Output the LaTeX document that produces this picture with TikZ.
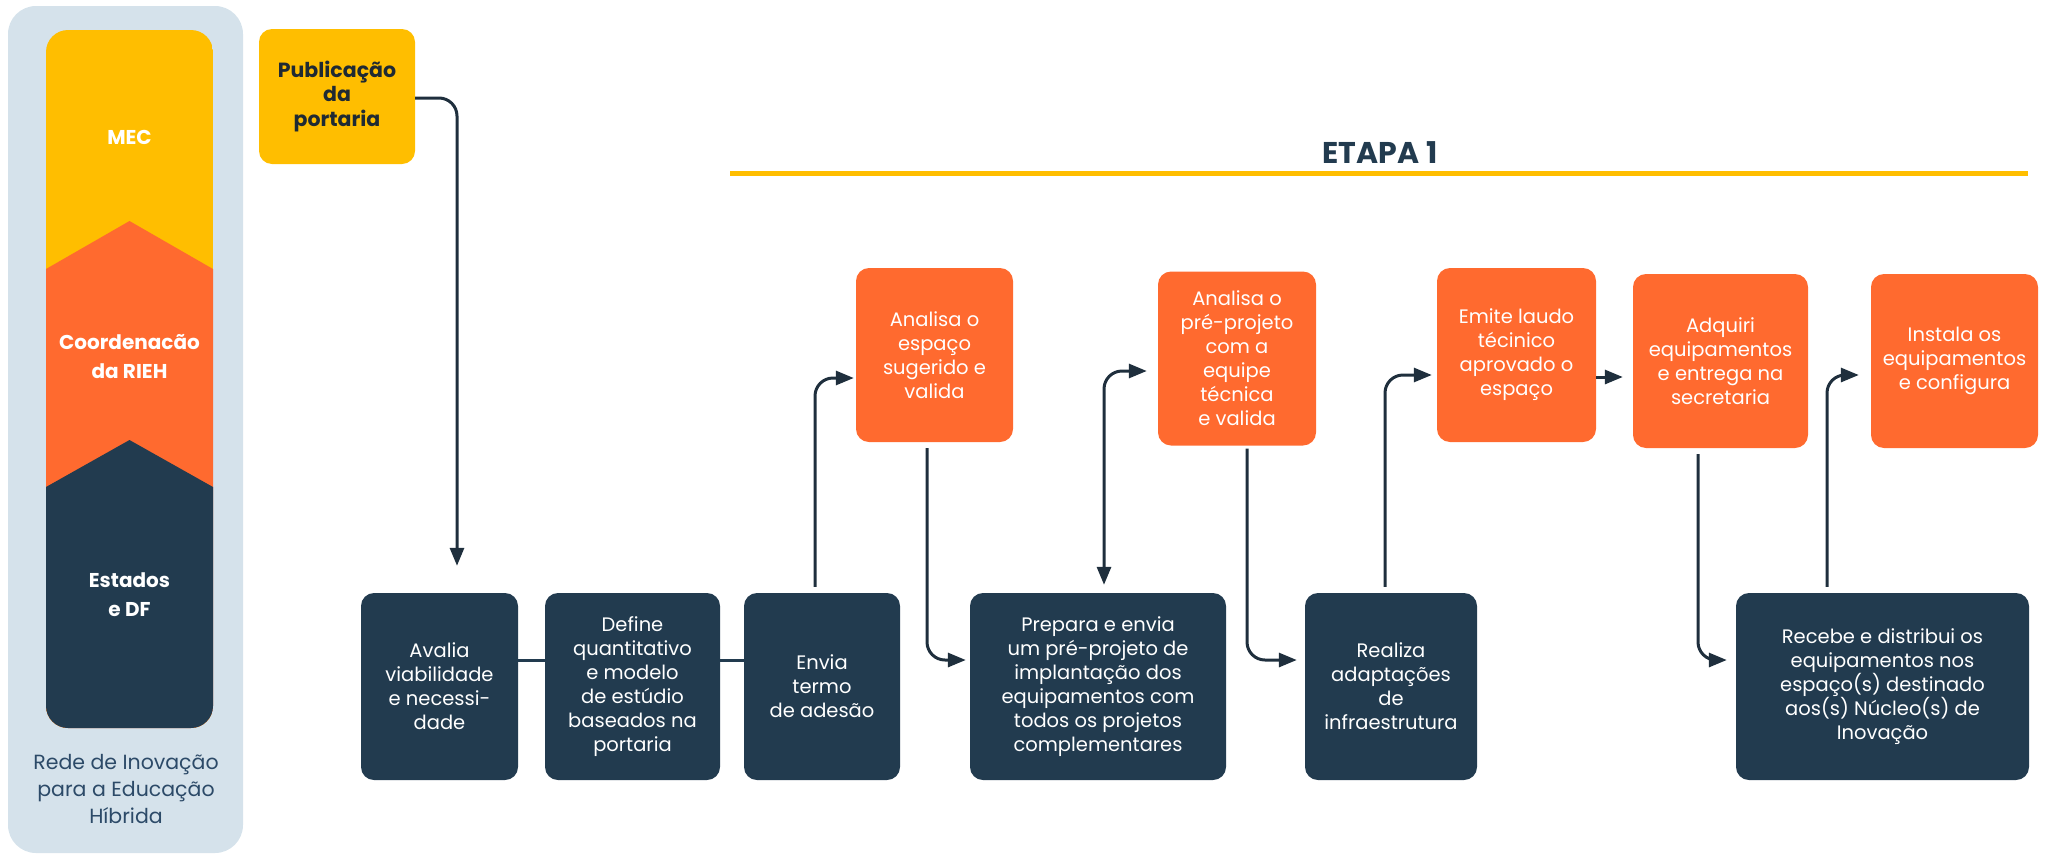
\documentclass[tikz,border=0pt]{standalone}
\usepackage{fontspec}
\setmainfont{Poppins}
\usepackage{tikz}
\usetikzlibrary{arrows.meta}

\definecolor{rieyellow}{HTML}{FFBE00}
\definecolor{rieorange}{HTML}{FF6A2F}
\definecolor{rienavy}{HTML}{223B4F}
\definecolor{riepanel}{HTML}{D5E2EB}
\definecolor{riecaption}{HTML}{2C4A68}
\definecolor{rieink}{HTML}{1F2A33}
\definecolor{rieline}{HTML}{1F2F3D}

\begin{document}
\begin{tikzpicture}[x=1pt, y=-1pt,
    boxtext/.style={align=center, inner sep=0pt, rounded corners=13pt,
      font=\fontsize{19.5}{24}\selectfont, text=white},
    darkbox/.style={boxtext, fill=rienavy, minimum height=187pt},
    orangebox/.style={boxtext, fill=rieorange, minimum height=174pt},
    flow/.style={draw=rieline, line width=3pt, rounded corners=18pt,
      -{Triangle[length=18pt,width=14pt]}, shorten <=6pt, shorten >=8pt},
    link/.style={draw=rienavy, line width=3pt},
    collabel/.style={align=center, text=white,
      font=\bfseries\fontsize{20}{29}\selectfont}]
      \useasboundingbox (0,0) rectangle (2049,857);

      % Left panel with the three levels
      \fill[riepanel, rounded corners=28pt] (8,6) rectangle (243,853);
      \begin{scope}
        \clip[rounded corners=22pt] (46,30) rectangle (213,728);
        \fill[rieyellow] (46,30) rectangle (213,728);
        \fill[rieorange] (46,269) -- (129.5,221) -- (213,269) -- (213,728) -- (46,728) -- cycle;
        \fill[rienavy] (46,487) -- (129.5,440) -- (213,487) -- (213,728) -- (46,728) -- cycle;
      \end{scope}
      \node[collabel] (mec) at (129.5,137) {MEC};
      \node[collabel] (coord) at (129.5,357) {Coordenacão\\da RIEH};
      \node[collabel] (estados) at (129.5,595) {Estados\\e DF};
      \node[align=center, text=riecaption, font=\fontsize{20.5}{27}\selectfont] (rede) at (126,789)
        {Rede de Inovação\\para a Educação\\Híbrida};

      % Start box
      \node[fill=rieyellow, rounded corners=13pt, minimum width=156pt, minimum height=135pt,
        align=center, inner sep=0pt, text=rieink, font=\bfseries\fontsize{20.5}{24.5}\selectfont]
        (pub) at (337,96.5) {Publicação\\da\\portaria};

      % Stage title and rule
      \node[text=rienavy, font=\bfseries\fontsize{30}{30}\selectfont] (etapa) at (1380,153) {ETAPA 1};
      \draw[rieyellow, line width=5pt] (730,173) -- (2028,173);

      % Steps of the states (bottom row)
      \node[darkbox, minimum width=157pt] (avalia) at (439.5,686.5)
        {Avalia\\viabilidade\\e necessi-\\dade};
      \node[darkbox, minimum width=175pt] (define) at (632.5,686.5)
        {Define\\quantitativo\\e modelo\\de estúdio\\baseados na\\portaria};
      \node[darkbox, minimum width=156pt] (envia) at (822,686.5)
        {Envia\\termo\\de adesão};
      \node[darkbox, minimum width=256pt] (prepara) at (1098,686.5)
        {Prepara e envia\\um pré-projeto de\\implantação dos\\equipamentos com\\todos os projetos\\complementares};
      \node[darkbox, minimum width=172pt] (realiza) at (1391,686.5)
        {Realiza\\adaptações\\de\\infraestrutura};
      \node[darkbox, minimum width=293pt] (recebe) at (1882.5,686.5)
        {Recebe e distribui os\\equipamentos nos\\espaço(s) destinado\\aos(s) Núcleo(s) de\\Inovação};

      % Steps of the coordination (top row)
      \node[orangebox, minimum width=157pt] (analisaA) at (934.5,355)
        {Analisa o\\espaço\\sugerido e\\valida};
      \node[orangebox, minimum width=158pt] (analisaB) at (1237,358.5)
        {Analisa o\\pré-projeto\\com a\\equipe\\técnica\\e valida};
      \node[orangebox, minimum width=159pt] (emite) at (1516.5,355)
        {Emite laudo\\técinico\\aprovado o\\espaço};
      \node[orangebox, minimum width=175pt] (adquiri) at (1720.5,361)
        {Adquiri\\equipamentos\\e entrega na\\secretaria};
      \node[orangebox, minimum width=167pt] (instala) at (1954.5,361)
        {Instala os\\equipamentos\\e configura};

      % Connectors
      \draw[flow, shorten <=0pt, shorten >=27pt] ([yshift=-1.5pt]pub.east) -| ([xshift=17.5pt]avalia.north);
      \draw[link] ([yshift=26.5pt]avalia.east) -- ([yshift=26.5pt]define.west);
      \draw[link] ([yshift=26.5pt]define.east) -- ([yshift=26.5pt]envia.west);
      \draw[flow, shorten >=2pt] ([xshift=-7pt]envia.north) |- ([yshift=-23pt]analisaA.west);
      \draw[flow, shorten >=4pt] ([xshift=-7.5pt]analisaA.south) |- ([yshift=26.5pt]prepara.west);
      \draw[flow, {Triangle[length=18pt,width=14pt]}-{Triangle[length=18pt,width=14pt]},
        shorten <=8pt, shorten >=11pt] ([xshift=6pt]prepara.north) |- ([yshift=-12.5pt]analisaB.west);
      \draw[flow, shorten <=3pt] ([xshift=10pt]analisaB.south) |- ([yshift=26.5pt]realiza.west);
      \draw[flow, shorten >=5pt] ([xshift=-6pt]realiza.north) |- ([yshift=-20pt]emite.west);
      \draw[flow, shorten <=0pt, shorten >=10pt] ([yshift=-22pt]emite.east) -- ([yshift=-16pt]adquiri.west);
      \draw[flow, shorten >=9pt] ([xshift=-22.5pt]adquiri.south) |- ([yshift=26.5pt]recebe.west);
      \draw[flow, shorten >=12pt] ([xshift=-55.5pt]recebe.north) |- ([yshift=-14pt]instala.west);
\end{tikzpicture}
\end{document}
